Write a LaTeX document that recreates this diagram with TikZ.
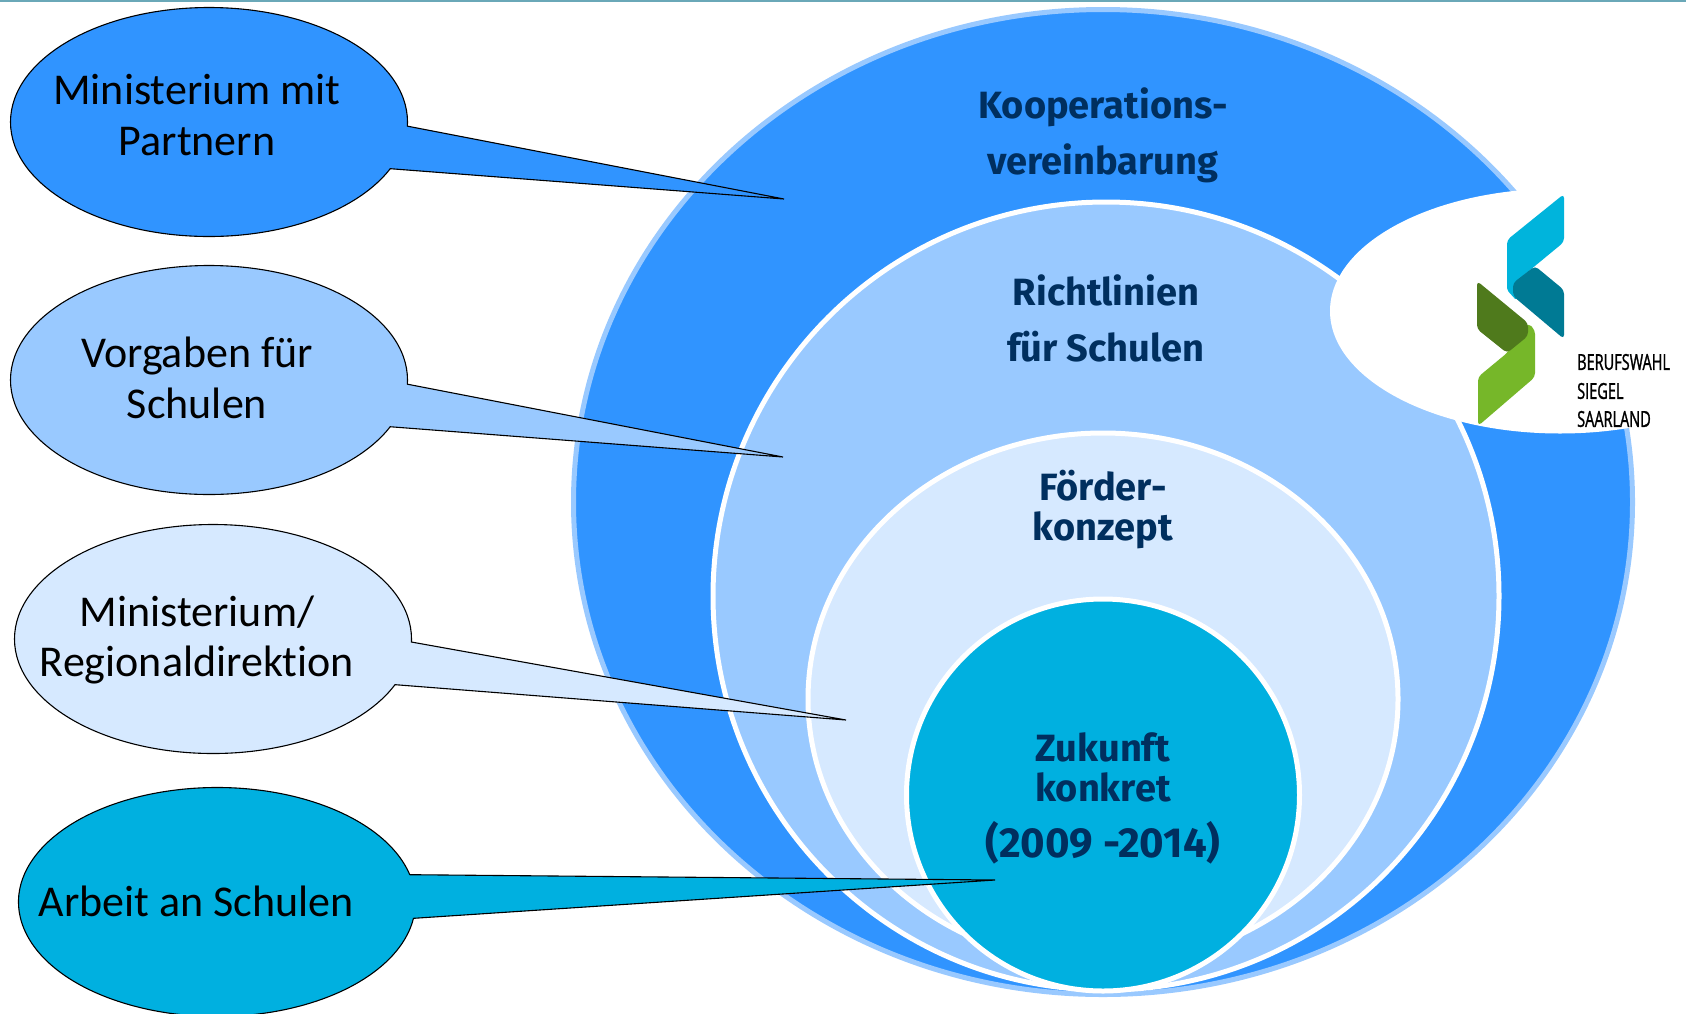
\documentclass[tikz,border=0pt]{standalone}
\usepackage{fontspec}
\setmainfont[Ligatures=NoCommon]{Carlito}
\newfontfamily\titlefont{Fira Sans}
\newfontfamily\logofont[FakeStretch=0.66, FakeBold=1.2]{Open Sans}
\usetikzlibrary{positioning, shapes.geometric, shapes.callouts}

\definecolor{ringa}{HTML}{3094FF}
\definecolor{ringb}{HTML}{99C9FF}
\definecolor{ringc}{HTML}{D6E9FF}
\definecolor{ringd}{HTML}{00B0E0}
\definecolor{navy}{HTML}{002F5F}
\definecolor{topline}{HTML}{6AA8B8}
\definecolor{logocyan}{HTML}{00B4DC}
\definecolor{logoteal}{HTML}{007A94}
\definecolor{logodark}{HTML}{4F7A1C}
\definecolor{logolight}{HTML}{76B729}

\tikzset{
  ring/.style={ellipse, draw=white, line width=5pt, inner sep=0pt},
  bubble/.style={ellipse callout, draw=black, line width=1.1pt, inner sep=0pt, minimum width=397pt, minimum height=229pt, callout pointer arc=22},
  bubbletext/.style={align=center, text=black, font=\fontsize{44}{50.5}\selectfont},
  ringtext/.style={align=center, text=navy, font=\titlefont\bfseries\fontsize{38}{56}\selectfont},
  logotext/.style={anchor=west, text=black, inner sep=0pt, font=\logofont\fontsize{22}{22}\selectfont},
}

\begin{document}
\begin{tikzpicture}[x=1pt, y=-1pt]

\useasboundingbox (0,0) rectangle (1686,1013);
\clip (0,0) rectangle (1686,1013);

\fill [topline] (0,0) rectangle (1686,2);

\node [ring, fill=ringa, draw=ringb, minimum width=1059pt, minimum height=985pt] (kooperation) at (1103,502) {};
\node [ring, fill=ringb, minimum width=786pt, minimum height=788pt]              (richtlinien) at (1106,596) {};
\node [ring, fill=ringc, minimum width=590pt, minimum height=532pt]              (konzept)     at (1103,699) {};
\node [ring, fill=ringd, minimum width=393pt, minimum height=392pt]              (zukunft)     at (1103,795) {};
\node [ellipse, fill=white, inner sep=0pt, minimum width=460pt, minimum height=245pt] (logobg) at (1560,311) {};

\node [ringtext] (tkooperation) at (1103,135) {Kooperations-\\vereinbarung};
\node [ringtext] (trichtlinien) at (1106,318) {Richtlinien\\für Schulen};
\node [ringtext, font=\titlefont\bfseries\fontsize{38}{40}\selectfont] (tkonzept) at (1103,510) {Förder-\\konzept};
\node [ringtext, font=\titlefont\bfseries\fontsize{38}{40}\selectfont] (tzukunft) at (1103,767) {Zukunft\\konkret};
\node [ringtext, font=\titlefont\bfseries\fontsize{42}{56}\selectfont] (tjahre) at (1103,843) {(2009 -2014)};

\node [bubble, fill=ringa, callout absolute pointer={(784,199)}] (partner)  at (209,122) {};
\node [bubble, fill=ringb, callout absolute pointer={(783,457)}] (vorgaben) at (209,380) {};
\node [bubble, fill=ringc, callout absolute pointer={(846,720)}] (regional) at (213,639) {};
\node [bubble, fill=ringd, callout absolute pointer={(995,880)}] (arbeit)   at (217,902) {};

\node [bubbletext] (tpartner)  at (197,115) {Ministerium mit\\Partnern};
\node [bubbletext] (tvorgaben) at (197,378) {Vorgaben für\\Schulen};
\node [bubbletext] (tregional) at (197,640) {Ministerium/\\Regionaldirektion};
\node [bubbletext] (tarbeit)   at (196,901) {Arbeit an Schulen};

\fill [logocyan,  rounded corners=4pt] (1564,194) -- (1564,242) -- (1507,289) -- (1507,240) -- cycle;
\fill [logocyan,  rounded corners=2pt] (1507,270) -- (1507,290) -- (1516,300) -- (1525,280) -- cycle;
\fill [logoteal,  rounded corners=4pt] (1535,266) -- (1564,290) -- (1564,339) -- (1513,296) -- (1513,283) -- cycle;
\fill [logolight, rounded corners=4pt] (1528,323) -- (1535,330) -- (1535,377) -- (1478,426) -- (1478,377) -- (1507,353) -- cycle;
\fill [logodark,  rounded corners=4pt] (1477,281) -- (1528,323) -- (1528,336) -- (1507,353) -- (1477,329) -- cycle;

\node [logotext] (tlogoa) at (1577,362) {BERUFSWAHL};
\node [logotext] (tlogob) at (1577,391) {SIEGEL};
\node [logotext] (tlogoc) at (1577,419) {SAARLAND};

\end{tikzpicture}
\end{document}
